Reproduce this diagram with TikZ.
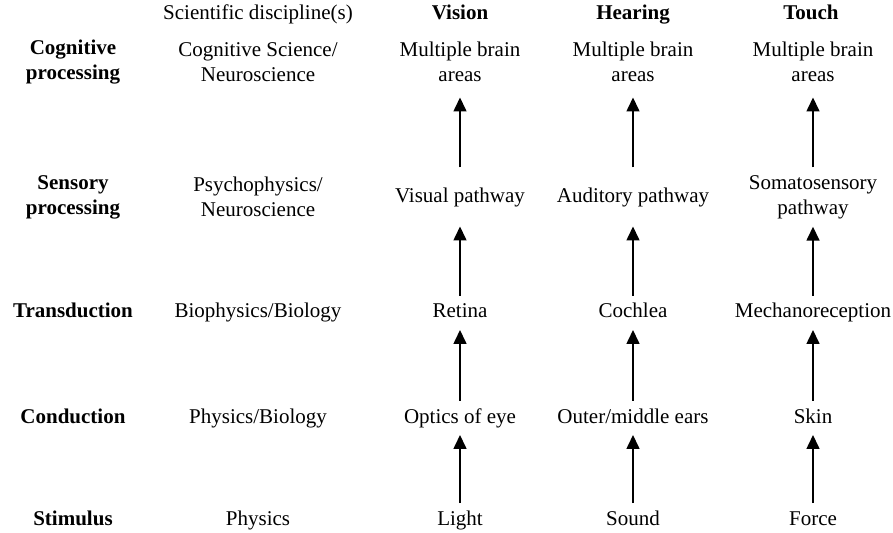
\documentclass[tikz,border=0pt]{standalone}
\usepackage{fontspec}
\setmainfont{Liberation Serif}
\usetikzlibrary{arrows.meta}

\tikzset{
  testo/.style={inner sep=0pt, outer sep=4pt, align=center},
  cella/.style={testo, text height=7pt, text depth=2pt},
  doppia/.style={testo, minimum height=21.5pt},
  grassetto/.style={font=\fontsize{10.5}{12.5}\selectfont\bfseries},
  freccia/.style={->, line width=0.8pt},
}

\begin{document}
\begin{tikzpicture}[x=0.5pt, y=-0.5pt, >={Triangle[width=6.5pt,length=7pt]},
    font=\fontsize{10.5}{12.5}\selectfont]
        \useasboundingbox (0,0) rectangle (893,533);

        % Intestazioni
        \node[cella] (D0) at (258,15) {Scientific discipline(s)};
        \node[cella, grassetto] (V0) at (460,15) {Vision};
        \node[cella, grassetto] (H0) at (633,15) {Hearing};
        \node[cella, grassetto] (T0) at (811,15) {Touch};

        % Livelli (colonna di sinistra)
        \node[doppia, grassetto] (L5) at (73,62) {Cognitive\\processing};
        \node[doppia, grassetto] (L4) at (73,197) {Sensory\\processing};
        \node[cella, grassetto] (L3) at (73,313) {Transduction};
        \node[cella, grassetto] (L2) at (73,418) {Conduction};
        \node[cella, grassetto] (L1) at (73,520) {Stimulus};

        % Discipline
        \node[doppia] (D5) at (258,62) {Cognitive Science/\\Neuroscience};
        \node[doppia] (D4) at (258,197) {Psychophysics/\\Neuroscience};
        \node[cella] (D3) at (258,313) {Biophysics/Biology};
        \node[cella] (D2) at (258,418) {Physics/Biology};
        \node[cella] (D1) at (258,520) {Physics};

        % Vista
        \node[doppia] (V5) at (460,62) {Multiple brain\\areas};
        \node[doppia] (V4) at (460,197) {Visual pathway};
        \node[cella] (V3) at (460,313) {Retina};
        \node[cella] (V2) at (460,418) {Optics of eye};
        \node[cella] (V1) at (460,520) {Light};

        % Udito
        \node[doppia] (H5) at (633,62) {Multiple brain\\areas};
        \node[doppia] (H4) at (633,197) {Auditory pathway};
        \node[cella] (H3) at (633,313) {Cochlea};
        \node[cella] (H2) at (633,418) {Outer/middle ears};
        \node[cella] (H1) at (633,520) {Sound};

        % Tatto
        \node[doppia] (T5) at (813,62) {Multiple brain\\areas};
        \node[doppia] (T4) at (813,197) {Somatosensory\\pathway};
        \node[cella] (T3) at (813,313) {Mechanoreception};
        \node[cella] (T2) at (813,418) {Skin};
        \node[cella] (T1) at (813,520) {Force};

        % Frecce verso l'alto
        \draw[freccia] (V1) -- (V2);
        \draw[freccia] (V2) -- (V3);
        \draw[freccia] (V3) -- (V4);
        \draw[freccia, shorten >=3pt] (V4) -- (V5);

        \draw[freccia] (H1) -- (H2);
        \draw[freccia] (H2) -- (H3);
        \draw[freccia] (H3) -- (H4);
        \draw[freccia, shorten >=3pt] (H4) -- (H5);

        \draw[freccia] (T1) -- (T2);
        \draw[freccia] (T2) -- (T3);
        \draw[freccia] (T3) -- (T4);
        \draw[freccia, shorten >=3pt] (T4) -- (T5);
    \end{tikzpicture}
\end{document}
